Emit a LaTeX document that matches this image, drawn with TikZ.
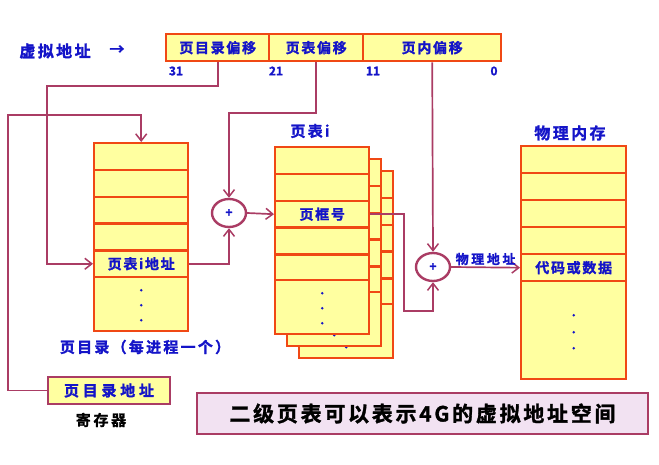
\documentclass[tikz,border=0pt]{standalone}
\usepackage{fontspec}
\setmainfont{Noto Sans CJK SC}[BoldFont={Noto Sans CJK SC Bold}, BoldFeatures={FakeBold=1.5}]
\usepackage{xcolor}
\usetikzlibrary{arrows.meta, positioning, calc, shapes.geometric}
\definecolor{pageFill}{RGB}{255,255,160}
\definecolor{pageEdge}{RGB}{240,72,20}
\definecolor{linkRose}{RGB}{170,60,100}
\definecolor{labelBlue}{RGB}{20,20,200}
\definecolor{noteFill}{RGB}{242,226,242}
\newcommand\spaced[1]{\addfontfeatures{LetterSpace=#1}}

\begin{document}
\begin{tikzpicture}[x=1pt, y=-1pt,
      cell/.style={draw=pageEdge, fill=pageFill, line width=2.4pt, anchor=north west, inner sep=0pt,
        font=\fontsize{14}{16}\bfseries\spaced{12}, text=labelBlue},
      link/.style={draw=linkRose, line width=1.7pt},
      tip/.style={-{Straight Barb[length=7pt,width=11pt,line width=1.5pt]}},
      adder/.style={ellipse, draw=linkRose, line width=2.4pt, fill=white, minimum width=34pt, minimum height=28pt,
        inner sep=0pt, font=\fontsize{12}{14}\bfseries, text=labelBlue},
      caption/.style={font=\fontsize{15}{17}\bfseries\spaced{15}, text=labelBlue},
      bit/.style={font=\fontsize{12}{14}\bfseries, text=labelBlue}
    ]
    \useasboundingbox (0,0) rectangle (659,465);

    \node[caption, font=\fontsize{16}{18}\bfseries\spaced{15}] (vaddr) at (55,51) {虚拟地址};
    \node[caption, font=\fontsize{15}{18}\bfseries] (vaddrarrow) at (117,50) {→};
    \node[cell, minimum width=103pt, minimum height=27pt] (va1) at (165,33) {页目录偏移};
    \node[cell, minimum width=94pt, minimum height=27pt] (va2) at (268,33) {页表偏移};
    \node[cell, minimum width=138pt, minimum height=27pt] (va3) at (362,33) {页内偏移};
    \node[bit] (b31) at (176,71) {31};
    \node[bit] (b21) at (276,71) {21};
    \node[bit] (b11) at (373,71) {11};
    \node[bit] (b0) at (494,71) {0};

    \foreach \i/\t in {1/,2/,3/,4/,5/页表i地址} {
      \node[cell, minimum width=94pt, minimum height=26.8pt] (dir\i) at (93,{142+(\i-1)*26.8}) {\t};
    }
    \node[cell, minimum width=94pt, minimum height=54pt] (dir6) at (93,276) {};
    \foreach \d in {-14,1,16} \fill[labelBlue] ($(dir6.center)+(0,\d)$) circle (1.4pt);
    \node[caption] (dirname) at (145,347) {页目录（每进程一个）};

    \foreach \k in {2,1,0} {
      \foreach \i/\t in {1/,2/,3/页框号,4/,5/,6/} {
        \node[cell, minimum width=94pt, minimum height=26.8pt] (tbl\k-\i) at ({274+12*\k},{146+12*\k+(\i-1)*26.8}) {\ifnum\k=0 \t\fi};
      }
      \node[cell, minimum width=94pt, minimum height=54pt] (tbl\k-7) at ({274+12*\k},{279+12*\k}) {};
      \foreach \d in {-14,1,16} \fill[labelBlue] ($(tbl\k-7.center)+(0,\d)$) circle (1.4pt);
    }
    \node[caption, font=\fontsize{15}{17}\bfseries\spaced{15}] (tblname) at (310,131) {页表i};

    \foreach \i/\t in {1/,2/,3/,4/,5/代码或数据} {
      \node[cell, minimum width=105pt, minimum height=27pt] (mem\i) at (520,{145+(\i-1)*27}) {\t};
    }
    \node[cell, minimum width=105pt, minimum height=98pt] (mem6) at (520,280) {};
    \foreach \d in {-15,2,18} \fill[labelBlue] ($(mem6.center)+(0,\d)$) circle (1.4pt);
    \node[caption, font=\fontsize{16}{18}\bfseries\spaced{15}] (memname) at (570,133) {物理内存};

    \node[draw=linkRose, fill=pageFill, line width=1.5pt, minimum width=122pt, minimum height=27pt,
      font=\fontsize{15}{17}\bfseries\spaced{25}, text=labelBlue] (reg) at (109,390.5) {页目录地址};
    \node[font=\fontsize{15}{17}\bfseries\spaced{18}] (regname) at (101,420) {寄存器};

    \node[adder] (add1) at (229,213) {+};
    \node[adder] (add2) at (433,267) {+};

    \coordinate (turnA) at (47,86);
    \coordinate (turnB) at (8,115);
    \coordinate (turnC) at (229,113);
    \coordinate (turnD) at (404,311);
    \draw[link, tip] (va1.south) |- (turnA) |- (dir5.west);
    \draw[link, tip] (reg.west) -| (turnB) -| (dir1.north);
    \draw[link, tip] (va2.south) |- (turnC) -- (add1.north);
    \draw[link, tip] (dir5.east) -| (add1.south);
    \draw[link, tip] (add1.east) -- (tbl0-3.west);
    \draw[link, tip] (tbl0-3.east) -| (turnD) -| (add2.south);
    \draw[link, tip] (va3.south) -- (add2.north);
    \draw[link, tip] (add2.east) -- node[caption, font=\fontsize{13}{15}\bfseries\spaced{20}, above=-2pt] {物理地址} (mem5.west);

    \node[draw=linkRose, fill=noteFill, line width=1.6pt, minimum width=451pt, minimum height=41pt,
      font=\fontsize{21}{23}\bfseries\spaced{13}] (note) at (422.5,413.5) {二级页表可以表示4G的虚拟地址空间};
  \end{tikzpicture}
\end{document}
